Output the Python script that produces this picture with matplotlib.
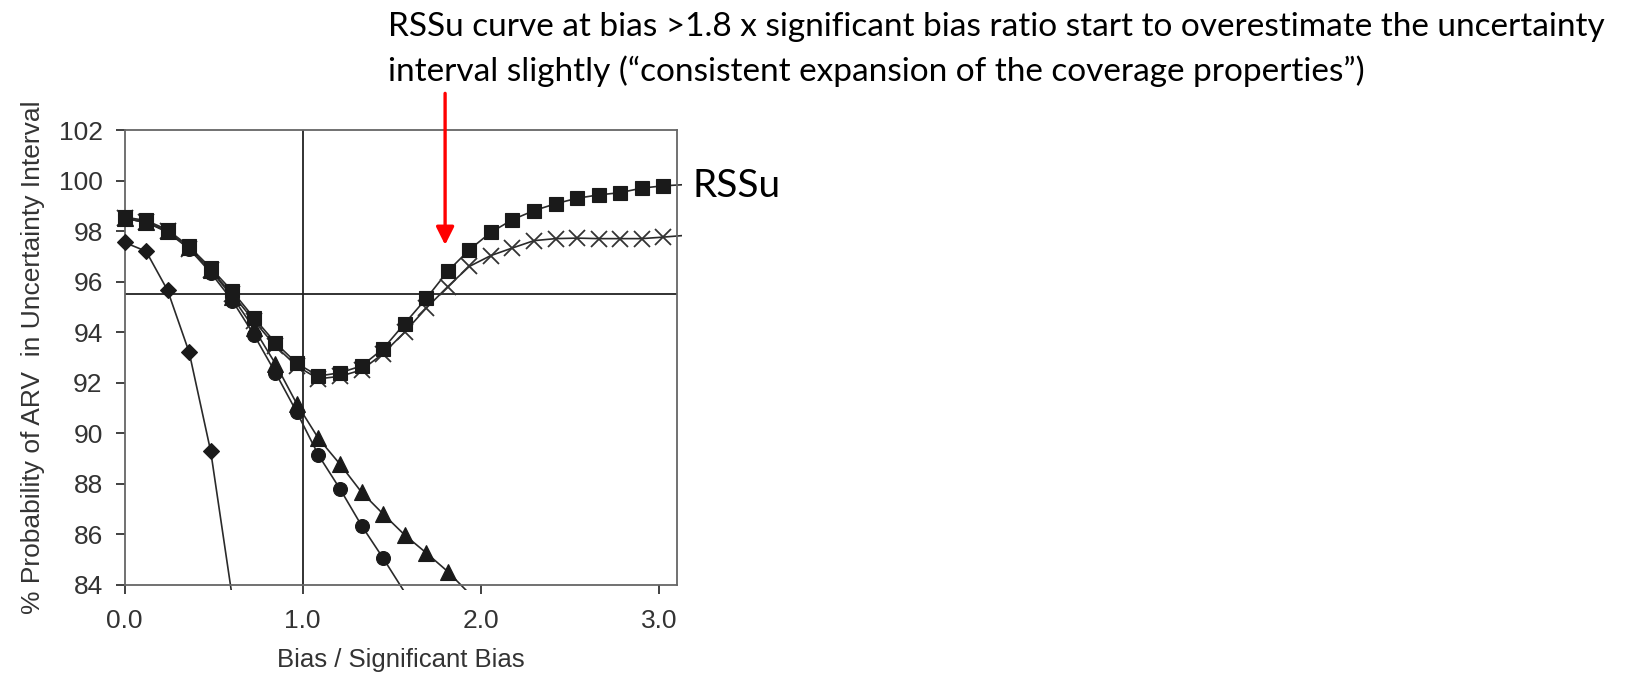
import numpy as np
import matplotlib.pyplot as plt
from matplotlib.transforms import Bbox, TransformedBbox

# bias / significant bias ratio for every simulated point
bias_x = [0.0, 0.121, 0.242, 0.363, 0.484, 0.605, 0.726, 0.847, 0.968, 1.089,
          1.21, 1.331, 1.452, 1.573, 1.694, 1.815, 1.936, 2.057, 2.178, 2.299,
          2.42, 2.541, 2.662, 2.783, 2.904, 3.025]
tail_x = 3.15  # curves run a bit past the frame on the right

rssu = [98.55, 98.42, 98.05, 97.39, 96.54, 95.62, 94.57, 93.58, 92.76, 92.26,
        92.39, 92.66, 93.34, 94.34, 95.33, 96.41, 97.26, 97.95, 98.45, 98.81,
        99.08, 99.30, 99.43, 99.52, 99.70, 99.79]
rssu_tail = 99.84
cruces = [98.5, 98.35, 98.0, 97.3, 96.45, 95.5, 94.45, 93.45, 92.65, 92.15,
          92.25, 92.5, 93.15, 94.0, 94.95, 95.8, 96.6, 97.03, 97.33, 97.62,
          97.7, 97.72, 97.7, 97.7, 97.7, 97.76]
cruces_tail = 97.83
triangulos = [98.5, 98.35, 98.0, 97.35, 96.45, 95.4, 94.15, 92.75, 91.15, 89.79,
              88.77, 87.66, 86.80, 85.97, 85.26, 84.52, 83.65]
circulos = [98.5, 98.35, 97.95, 97.3, 96.35, 95.25, 93.9, 92.4, 90.82, 89.13,
            87.79, 86.34, 85.05, 83.7]
diamantes = [97.55, 97.2, 95.65, 93.2, 89.28, 83.5]

nivel_95 = 95.5
sesgo_1 = 1.0
flecha_x = 1.8

plt.rcParams['font.family'] = ['Liberation Sans', 'DejaVu Sans']

fig = plt.figure(figsize=(16.34, 6.81), dpi=100)
ax = fig.add_axes([0.0762, 0.1414, 0.3379, 0.6677])
ax.set_xlim(0, 3.1)
ax.set_ylim(84, 102)

# lines may spill a few pixels past the frame, as in the scanned figure
clip = TransformedBbox(Bbox([[-0.03, -0.0117], [1.0096, 1.0]]), ax.transAxes)

ax.axhline(nivel_95, color='#222222', lw=1.3, zorder=1)
ax.axvline(sesgo_1, color='#222222', lw=1.3, zorder=1)

series = [
    (diamantes, None, 'D', 8),
    (circulos, None, 'o', 10),
    (triangulos, None, '^', 11),
    (cruces, cruces_tail, 'x', 11),
    (rssu, rssu_tail, 's', 10.5),
]
for ys, tail, mk, ms in series:
    xs = list(bias_x[:len(ys)])
    ys = list(ys)
    if tail is not None:
        xs.append(tail_x)
        ys.append(tail)
    xs = np.array(xs)
    ys = np.array(ys)
    ln, = ax.plot(xs, ys, color='#2a2a2a', lw=1.2, zorder=2)
    ln.set_clip_box(clip)
    ok = (ys >= 84) & (xs <= 3.1)
    if mk == 'x':
        mks, = ax.plot(xs[ok], ys[ok], ls='none', marker='x', ms=ms,
                       mec='#333333', mew=1.3, zorder=3)
    else:
        mks, = ax.plot(xs[ok], ys[ok], ls='none', marker=mk, ms=ms,
                       mfc='#1a1a1a', mec='#1a1a1a', mew=0.8, zorder=4)
    mks.set_clip_on(False)

for s in ax.spines.values():
    s.set_color('#666666')
    s.set_linewidth(1.3)

ax.set_xticks([0, 1, 2, 3])
ax.set_xticklabels(['0.0', '1.0', '2.0', '3.0'])
ax.set_yticks(np.arange(84, 103, 2))
ax.tick_params(axis='both', labelsize=19, colors='#333333', length=6.7, width=1.3)
ax.tick_params(axis='y', pad=9)
ax.tick_params(axis='x', pad=10.5)

ax.set_xlabel('Bias / Significant Bias', fontsize=18.5, color='#333333')
ax.set_ylabel('% Probability of ARV  in Uncertainty Interval', fontsize=19,
              color='#333333')
ax.xaxis.set_label_coords(0.5, -0.139)
ax.yaxis.set_label_coords(-0.144, 0.5)

ax.annotate('', xy=(flecha_x, 97.45), xytext=(flecha_x, 103.45),
            xycoords='data', textcoords='data', annotation_clip=False,
            arrowprops=dict(arrowstyle='-|>,head_length=0.6,head_width=0.3',
                            mutation_scale=18, color='#ff0000', lw=2.4,
                            shrinkA=0, shrinkB=0))

fig.text(0.2375, 1 - 36 / 681,
         'RSSu curve at bias >1.8 x significant bias ratio start to overestimate the uncertainty',
         fontsize=24, family=['Lato', 'DejaVu Sans'], va='baseline', color='black')
fig.text(0.2375, 1 - 81 / 681,
         'interval slightly (\u201cconsistent expansion of the coverage properties\u201d)',
         fontsize=24, family=['Lato', 'DejaVu Sans'], va='baseline', color='black')
fig.text(693 / 1634, 1 - 196.7 / 681, 'RSSu', fontsize=28,
         family=['Lato', 'DejaVu Sans'], va='baseline', color='black')

fig.savefig('out.png', dpi=100)
